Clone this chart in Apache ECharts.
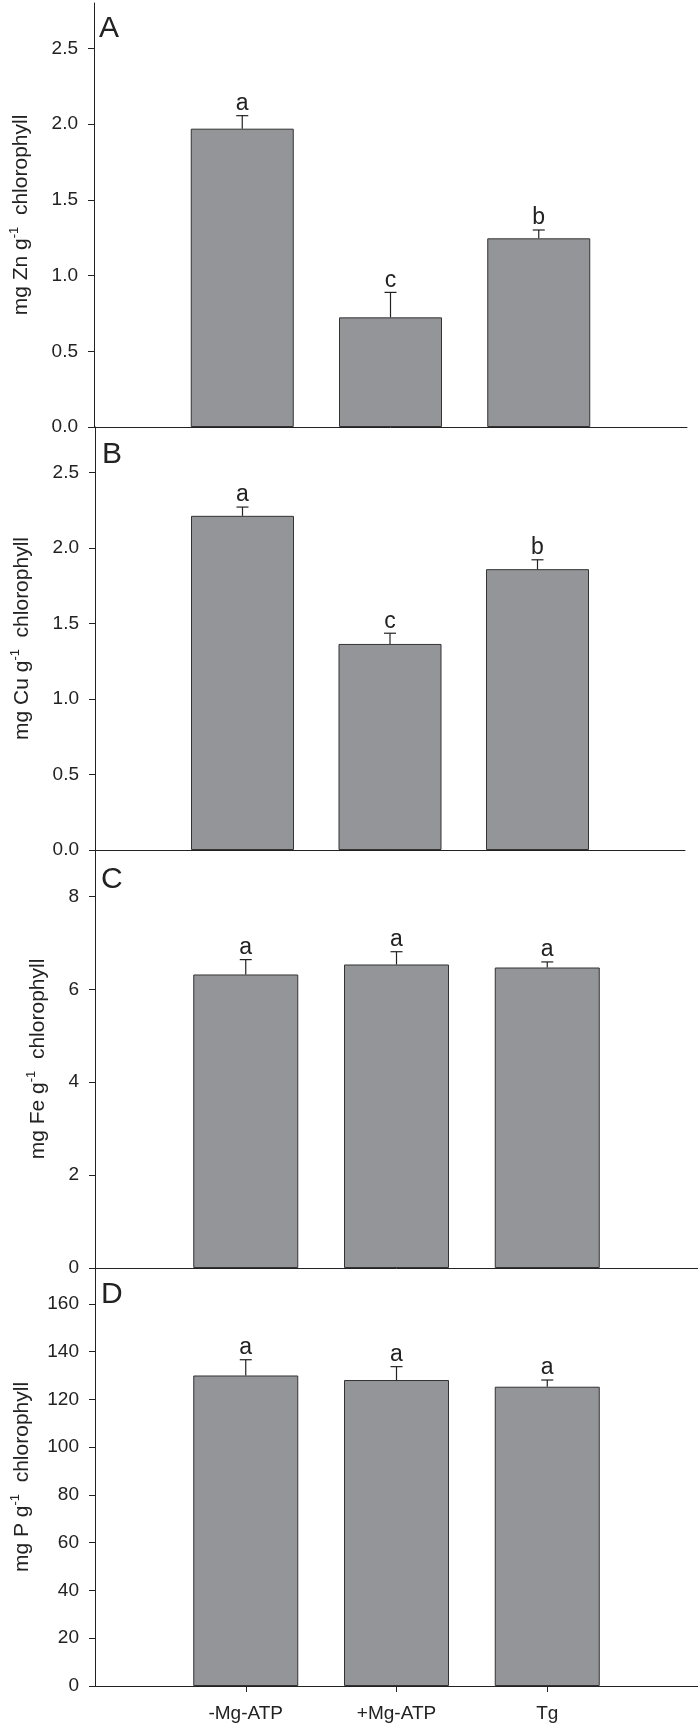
<!DOCTYPE html>
<html><head><meta charset="utf-8">
<script src="https://cdn.jsdelivr.net/npm/echarts@6/dist/echarts.min.js"></script>
<style>html,body{margin:0;padding:0;background:#fff}#c{width:698px;height:1728px}</style>
</head><body><div id="c"></div>
<script>
const categories = ['-Mg-ATP', '+Mg-ATP', 'Tg'];
const xPositions = [1, 2, 3];

const znMean = [1.97, 0.724, 1.246];
const znErr = [0.086, 0.165, 0.055];
const znLetters = ['a', 'c', 'b'];
const znTicks = [0, 0.5, 1.0, 1.5, 2.0, 2.5];

const cuMean = [2.212, 1.364, 1.859];
const cuErr = [0.058, 0.071, 0.062];
const cuLetters = ['a', 'c', 'b'];
const cuTicks = [0, 0.5, 1.0, 1.5, 2.0, 2.5];

const feMean = [6.32, 6.535, 6.47];
const feErr = [0.32, 0.275, 0.12];
const feLetters = ['a', 'a', 'a'];
const feTicks = [0, 2, 4, 6, 8];

const pMean = [130.0, 128.1, 125.3];
const pErr = [6.6, 5.6, 2.8];
const pLetters = ['a', 'a', 'a'];
const pTicks = [0, 20, 40, 60, 80, 100, 120, 140, 160];

const FONT = '"Liberation Sans", Arial, Helvetica, sans-serif';
const INK = '#222';

const panels = [
  { tag: 'A', el: 'Zn', mean: znMean, err: znErr, letters: znLetters, ticks: znTicks, max: 2.8, dec: 1,
    grid: { left: 94, top: 3, width: 593, height: 424 }, barW: 103, tagPos: [99, 14], nameGap: 60 },
  { tag: 'B', el: 'Cu', mean: cuMean, err: cuErr, letters: cuLetters, ticks: cuTicks, max: 2.8, dec: 1,
    grid: { left: 95, top: 427, width: 590, height: 423 }, barW: 103, tagPos: [102, 440], nameGap: 60 },
  { tag: 'C', el: 'Fe', mean: feMean, err: feErr, letters: feLetters, ticks: feTicks, max: 9, dec: 0,
    grid: { left: 95, top: 850, width: 603, height: 418 }, barW: 105, tagPos: [101, 865], nameGap: 44 },
  { tag: 'D', el: 'P', mean: pMean, err: pErr, letters: pLetters, ticks: pTicks, max: 175, dec: 0,
    grid: { left: 95, top: 1268, width: 603, height: 418 }, barW: 105, tagPos: [101, 1280], nameGap: 60 }
];

const option = {
  animation: false,
  backgroundColor: '#fff',
  title: [], grid: [], xAxis: [], yAxis: [], series: []
};

panels.forEach((p, i) => {
  const last = i === panels.length - 1;
  option.title.push({
    text: p.tag, left: p.tagPos[0], top: p.tagPos[1], padding: 0,
    textStyle: { fontSize: 30, fontWeight: 'normal', color: INK, fontFamily: FONT }
  });
  option.grid.push(Object.assign({ containLabel: false }, p.grid));
  option.xAxis.push({
    type: 'value', gridIndex: i, min: 0, max: 4,
    axisLine: { show: true, onZero: false, lineStyle: { color: INK, width: 1 } },
    axisTick: { show: last, length: 6, lineStyle: { color: INK }, customValues: xPositions },
    axisLabel: { show: last, customValues: xPositions, margin: 18, fontSize: 19, color: INK, fontFamily: FONT,
      formatter: v => categories[Math.round(v) - 1] || '' },
    splitLine: { show: false }
  });
  option.yAxis.push({
    type: 'value', gridIndex: i, min: 0, max: p.max,
    name: 'mg ' + p.el + ' g{sup|-1}  chlorophyll',
    nameLocation: 'middle', nameGap: p.nameGap,
    nameTextStyle: { fontSize: 21, color: INK, fontFamily: FONT, lineHeight: 26,
      rich: { sup: { fontSize: 13, verticalAlign: 'top', lineHeight: 26, color: INK, fontFamily: FONT } } },
    axisLine: { show: true, lineStyle: { color: INK, width: 1 } },
    axisTick: { show: true, length: 6, lineStyle: { color: INK }, customValues: p.ticks },
    axisLabel: { customValues: p.ticks, margin: 16, fontSize: 19, color: INK, fontFamily: FONT,
      formatter: v => v.toFixed(p.dec) },
    splitLine: { show: false }
  });
  option.series.push({
    type: 'bar', xAxisIndex: i, yAxisIndex: i, barWidth: p.barW,
    data: xPositions.map((x, k) => [x, p.mean[k]]),
    itemStyle: { color: '#939598', borderColor: '#333', borderWidth: 1 }
  });
  option.series.push({
    type: 'custom', xAxisIndex: i, yAxisIndex: i, z: 5,
    data: xPositions.map((x, k) => [x, p.mean[k], p.err[k]]),
    encode: { x: 0, y: 1 },
    renderItem: function (params, api) {
      const x = api.value(0), m = api.value(1), e = api.value(2);
      const p0 = api.coord([x, m]);
      const p1 = api.coord([x, m + e]);
      return {
        type: 'group', children: [
          { type: 'line', shape: { x1: p0[0], y1: p0[1], x2: p1[0], y2: p1[1] }, style: { stroke: INK, lineWidth: 1.2 } },
          { type: 'line', shape: { x1: p1[0] - 6, y1: p1[1], x2: p1[0] + 6, y2: p1[1] }, style: { stroke: INK, lineWidth: 1.2 } },
          { type: 'text', x: p1[0], y: p1[1] - 12,
            style: { text: p.letters[params.dataIndex], fontSize: 23, fill: INK, fontFamily: FONT, align: 'center', verticalAlign: 'middle' } }
        ]
      };
    }
  });
});

const chart = echarts.init(document.getElementById('c'), null, { renderer: 'canvas' });
chart.setOption(option);
</script>
</body></html>
